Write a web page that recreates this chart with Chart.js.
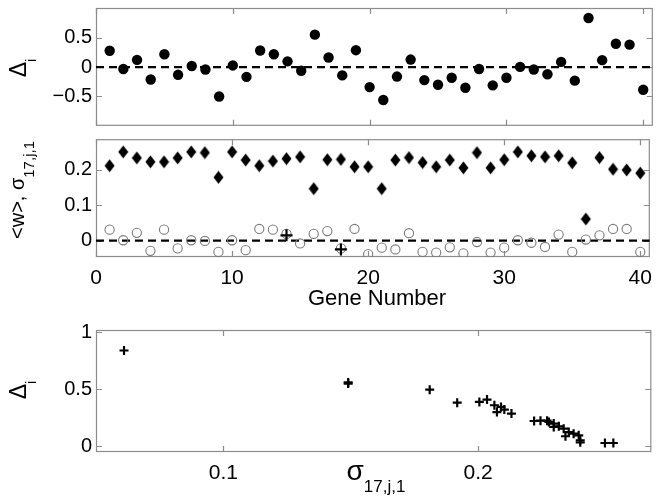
<!DOCTYPE html>
<html><head><meta charset="utf-8">
<script src="https://cdn.jsdelivr.net/npm/chart.js@4.4.0/dist/chart.umd.min.js"></script>
<style>
html,body{margin:0;padding:0;background:#fff;width:658px;height:500px;overflow:hidden;position:relative}
canvas{position:absolute;left:0}
</style></head><body>
<canvas id="c1" width="658" height="131" style="top:0px"></canvas>
<canvas id="c2" width="658" height="179" style="top:131px"></canvas>
<canvas id="c3" width="658" height="190" style="top:310px"></canvas>
<script>
// ---- data ----
const genes = [1,2,3,4,5,6,7,8,9,10,11,12,13,14,15,16,17,18,19,20,21,22,23,24,25,26,27,28,29,30,31,32,33,34,35,36,37,38,39,40];
const delta = [0.28,-0.03,0.125,-0.21,0.22,-0.13,0.02,-0.04,-0.5,0.03,-0.165,0.285,0.22,0.1,-0.06,0.555,0.165,-0.14,0.29,-0.34,-0.56,-0.16,0.13,-0.22,-0.30,-0.18,-0.35,-0.03,-0.31,-0.18,0.005,-0.04,-0.12,0.09,-0.23,0.84,0.12,0.40,0.385,-0.385];
const sigma = [0.212,0.251,0.234,0.223,0.223,0.234,0.251,0.249,0.179,0.251,0.228,0.212,0.225,0.232,0.237,0.147,0.229,0.23,0.209,0.209,0.147,0.228,0.235,0.221,0.209,0.228,0.206,0.249,0.206,0.229,0.251,0.240,0.237,0.240,0.220,0.061,0.235,0.202,0.200,0.191];
const meanW = [0.031,0.001,0.022,-0.029,0.031,-0.022,0.001,-0.001,-0.032,0.001,-0.027,0.033,0.031,0.019,-0.008,0.019,0.027,-0.022,0.033,-0.038,-0.02,-0.025,0.021,-0.032,-0.034,-0.019,-0.036,-0.004,-0.034,-0.02,0.001,-0.006,-0.018,0.017,-0.032,0.003,0.015,0.033,0.033,-0.032];
const markedGenes = [14, 18];
const markedValues = [0.015, -0.025];
const scatterSigma = [0.061,0.149,0.149,0.181,0.1918,0.2005,0.2035,0.2064,0.209,0.2103,0.2074,0.2131,0.222,0.2245,0.2271,0.2278,0.2297,0.2297,0.2317,0.2336,0.2343,0.2356,0.2375,0.2395,0.2401,0.2401,0.2498,0.2531];
const scatterDelta = [0.84,0.56,0.55,0.497,0.383,0.389,0.41,0.36,0.345,0.322,0.30,0.287,0.222,0.225,0.225,0.213,0.199,0.17,0.175,0.155,0.088,0.125,0.111,0.096,0.053,0.035,0.029,0.029];
const geneTicks = [0,10,20,30,40];
const deltaTicks = [-0.5,0,0.5];
const wTicks = [0,0.1,0.2];
const sigmaTicks = [0.1,0.2];
const scatterYTicks = [0,0.5,1];

// ---- helpers ----
const FONT = "'Liberation Sans', Arial, Helvetica, sans-serif";
const FRAME = '#8c8c8c';
function fmt(v){ return String(v).replace('-', '\u2212'); }
function pts(xs, ys){ return xs.map((x,i)=>({x:x, y:ys[i]})); }

const diamond = document.createElement('canvas');
diamond.width = 11; diamond.height = 14;
(function(){ const c = diamond.getContext('2d'); c.fillStyle='#000'; c.beginPath();
  c.moveTo(5.5,0.5); c.lineTo(10.5,7); c.lineTo(5.5,13.5); c.lineTo(0.5,7); c.closePath(); c.fill(); })();

function yAxis(min, max, ticks){
  return { type:'linear', min:min, max:max, position:'left',
    grid:{display:false, drawTicks:false}, border:{display:false},
    afterBuildTicks: s => { s.ticks = ticks.map(v=>({value:v})); },
    ticks:{ callback: v => fmt(v), color:'#000', padding:4, font:{family:FONT, size:20} },
    afterFit: s => { s.width = 96; s.paddingTop = 0; s.paddingBottom = 0; } };
}
function xAxis(min, max, ticks, show, h){
  return { type:'linear', min:min, max:max, position:'bottom', display: show,
    grid:{display:false, drawTicks:false}, border:{display:false},
    afterBuildTicks: s => { s.ticks = ticks.map(v=>({value:v})); },
    ticks:{ callback: v => fmt(v), color:'#000', padding:9, maxRotation:0, font:{family:FONT, size:21} },
    afterFit: s => { s.height = h; s.paddingLeft = 0; s.paddingRight = 0; } };
}
function framePlugin(xt, yt){
  return { id:'frame', beforeDatasetsDraw(chart){
    const {ctx, chartArea:a, scales} = chart;
    ctx.save(); ctx.strokeStyle = FRAME; ctx.lineWidth = 1.2;
    ctx.strokeRect(a.left+0.5, a.top+0.5, a.right-a.left-1, a.bottom-a.top-1);
    ctx.beginPath();
    xt.forEach(v => { const p = Math.round(scales.x.getPixelForValue(v))+0.5;
      ctx.moveTo(p, a.bottom); ctx.lineTo(p, a.bottom-6); ctx.moveTo(p, a.top); ctx.lineTo(p, a.top+6); });
    yt.forEach(v => { const p = Math.round(scales.y.getPixelForValue(v))+0.5;
      ctx.moveTo(a.left, p); ctx.lineTo(a.left+6, p); ctx.moveTo(a.right, p); ctx.lineTo(a.right-6, p); });
    ctx.stroke(); ctx.restore();
  }};
}
// draw text made of parts [text, size, dy] ; rot in radians, anchored at center of total width
function drawParts(ctx, x, y, rot, parts){
  ctx.save(); ctx.translate(x, y); ctx.rotate(rot);
  ctx.fillStyle = '#000'; ctx.textBaseline = 'alphabetic'; ctx.textAlign = 'left';
  let total = 0;
  parts.forEach(p => { ctx.font = p[1]+'px '+FONT; total += ctx.measureText(p[0]).width; });
  let cx = -total/2;
  parts.forEach(p => { ctx.font = p[1]+'px '+FONT; ctx.fillText(p[0], cx, p[2]); cx += ctx.measureText(p[0]).width; });
  ctx.restore();
}
function labelPlugin(fn){ return { id:'lbl', afterDraw(chart){ fn(chart.ctx); } }; }
function zeroLine(xmin, xmax){
  return { type:'line', data:[{x:xmin,y:0},{x:xmax,y:0}], showLine:true, borderColor:'#000',
    borderWidth:2.2, borderDash:[8,5], pointRadius:0, fill:false };
}
const common = { responsive:false, animation:false, devicePixelRatio:1,
  plugins:{ legend:{display:false}, tooltip:{enabled:false} } };

const GX0 = 0, GX1 = 40.7;

// ---- panel 1 ----
new Chart(document.getElementById('c1'), {
  type:'scatter',
  data:{ datasets:[
    { data: pts(genes, delta), pointStyle:'circle', pointRadius:5.2, backgroundColor:'#000', borderColor:'#000', borderWidth:0 },
    zeroLine(GX0, GX1)
  ]},
  options: Object.assign({}, common, {
    layout:{ padding:{ top:8, right:2, bottom:1, left:0 } },
    scales:{ x: xAxis(GX0, GX1, geneTicks, false, 0), y: yAxis(-1, 1.01, deltaTicks) }
  }),
  plugins:[ framePlugin(geneTicks, deltaTicks), labelPlugin(ctx => {
    drawParts(ctx, 26, 68, -Math.PI/2, [['\u0394',23,0],['i',15,10]]);
  }) ]
});

// ---- panel 2 ----
new Chart(document.getElementById('c2'), {
  type:'scatter',
  data:{ datasets:[
    { data: pts(markedGenes, markedValues), pointStyle:'cross', pointRadius:6, borderColor:'#000', borderWidth:2.2 },
    { data: pts(genes, sigma), pointStyle: diamond, pointRadius:6 },
    { data: pts(genes, meanW), pointStyle:'circle', pointRadius:4.6, backgroundColor:'rgba(0,0,0,0)', borderColor:'#7a7a7a', borderWidth:1.1 },
    zeroLine(GX0, GX1)
  ]},
  options: Object.assign({}, common, {
    layout:{ padding:{ top:6, right:2, bottom:0, left:0 } },
    scales:{ x: xAxis(GX0, GX1, geneTicks, true, 53), y: yAxis(-0.0464, 0.287, wTicks) }
  }),
  plugins:[ framePlugin(geneTicks, wTicks), labelPlugin(ctx => {
    drawParts(ctx, 24, 59, -Math.PI/2, [['<w>, \u03c3',20,0],['17,j,1',15,10]]);
    drawParts(ctx, 377, 174, 0, [['Gene Number',22,0]]);
  }) ]
});

// ---- panel 3 ----
new Chart(document.getElementById('c3'), {
  type:'scatter',
  data:{ datasets:[
    { data: pts(scatterSigma, scatterDelta), pointStyle:'cross', pointRadius:4.5, borderColor:'#000', borderWidth:2.2 }
  ]},
  options: Object.assign({}, common, {
    layout:{ padding:{ top:20, right:2, bottom:0, left:0 } },
    scales:{ x: xAxis(0.05, 0.268, sigmaTicks, true, 48), y: yAxis(-0.05, 1.02, scatterYTicks) }
  }),
  plugins:[ framePlugin(sigmaTicks, scatterYTicks), labelPlugin(ctx => {
    drawParts(ctx, 26, 80, -Math.PI/2, [['\u0394',23,0],['i',15,10]]);
    drawParts(ctx, 376, 170, 0, [['\u03c3',28,0],['17,j,1',17,12]]);
  }) ]
});
</script>
</body></html>
